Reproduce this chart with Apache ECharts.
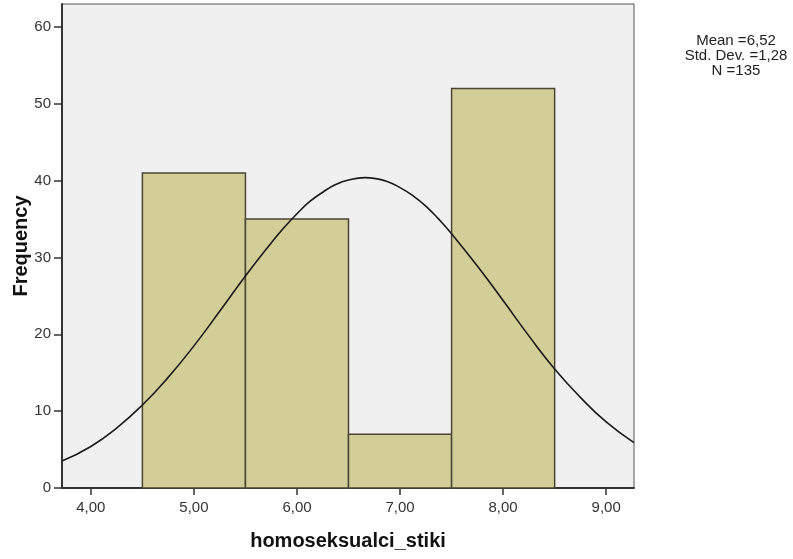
<!DOCTYPE html>
<html>
<head>
<meta charset="utf-8">
<script src="https://cdn.jsdelivr.net/npm/echarts@6/dist/echarts.min.js"></script>
<style>
  html, body { margin: 0; padding: 0; background: #fff; }
  #chart { width: 793px; height: 559px; }
</style>
</head>
<body>
<div id="chart"></div>
<script>
// histogram bins: [lower edge, upper edge] and frequency
const binEdges = [[4.5, 5.5], [5.5, 6.5], [6.5, 7.5], [7.5, 8.5]]
const binCounts = [41, 35, 7, 52]
// normal curve
const curveX = [3.72, 4.0, 4.25, 4.5, 4.75, 5.0, 5.25, 5.5, 5.75, 5.875, 6.0, 6.125, 6.25, 6.375, 6.5, 6.66, 6.75, 6.875, 7.0, 7.125, 7.25, 7.375, 7.5, 7.75, 8.0, 8.25, 8.5, 8.75, 9.0, 9.27]
const curveY = [3.5, 5.4, 7.8, 10.8, 14.4, 18.5, 23.0, 27.6, 31.9, 33.9, 35.7, 37.3, 38.5, 39.5, 40.1, 40.4, 40.3, 39.9, 39.1, 38.05, 36.7, 35.0, 33.1, 28.9, 24.4, 19.8, 15.5, 11.8, 8.6, 5.9]
const xTicks = [4, 5, 6, 7, 8, 9]
const yTicks = [0, 10, 20, 30, 40, 50, 60]
const statLines = ['Mean =6,52', 'Std. Dev. =1,28', 'N =135']

const font = 'Liberation Sans, Arial, sans-serif'
const chart = echarts.init(document.getElementById('chart'))

const barData = binEdges.map((e, i) => [e[0], e[1], binCounts[i]])
const lineData = curveX.map((x, i) => [x, curveY[i]])

chart.setOption({
  animation: false,
  backgroundColor: '#fff',
  grid: {
    left: 62, right: 159, top: 4, bottom: 71,
    outerBoundsMode: 'none', containLabel: false,
    show: true, backgroundColor: '#F0F0F0', borderColor: '#555', borderWidth: 1
  },
  xAxis: {
    type: 'value', min: 3.72, max: 9.27,
    name: 'homoseksualci_stiki', nameLocation: 'middle', nameGap: 43, nameMoveOverlap: false,
    nameTextStyle: { fontFamily: font, fontSize: 20, fontWeight: 'bold', color: '#111' },
    axisLine: { show: true, lineStyle: { color: '#333', width: 2 } },
    axisTick: { show: true, length: 7, customValues: xTicks, lineStyle: { color: '#333', width: 1.5 } },
    axisLabel: {
      customValues: xTicks, margin: 12, color: '#333', fontFamily: font, fontSize: 15,
      formatter: v => v.toFixed(2).replace('.', ',')
    },
    splitLine: { show: false }
  },
  yAxis: {
    type: 'value', min: 0, max: 63,
    name: 'Frequency', nameLocation: 'middle', nameGap: 31, nameMoveOverlap: false,
    nameTextStyle: { fontFamily: font, fontSize: 20, fontWeight: 'bold', color: '#111' },
    axisLine: { show: true, lineStyle: { color: '#333', width: 2 } },
    axisTick: { show: true, length: 8, customValues: yTicks, lineStyle: { color: '#333', width: 1.5 } },
    axisLabel: { customValues: yTicks, margin: 11, color: '#333', fontFamily: font, fontSize: 15 },
    splitLine: { show: false }
  },
  graphic: [{
    type: 'text', x: 736, y: 33,
    style: {
      text: statLines.join('\n'), fontFamily: font, fontSize: 15, lineHeight: 15,
      fill: '#222', align: 'center', verticalAlign: 'top'
    }
  }],
  series: [
    {
      type: 'custom',
      data: barData,
      encode: { x: [0, 1], y: 2 },
      renderItem: (params, api) => {
        const p0 = api.coord([api.value(0), api.value(2)])
        const p1 = api.coord([api.value(1), 0])
        return {
          type: 'rect',
          shape: { x: p0[0], y: p0[1], width: p1[0] - p0[0], height: p1[1] - p0[1] },
          style: { fill: '#D3CE97', stroke: '#4a4535', lineWidth: 1.5 }
        }
      },
      z: 2
    },
    {
      type: 'line',
      data: lineData,
      smooth: true,
      showSymbol: false,
      lineStyle: { color: '#1a1a1a', width: 1.6 },
      z: 3
    }
  ]
})
</script>
</body>
</html>
